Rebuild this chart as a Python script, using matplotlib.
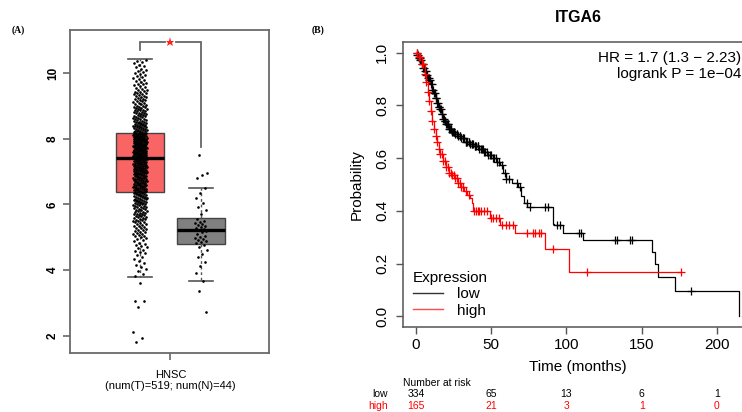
import numpy as np
import matplotlib.pyplot as plt
from matplotlib.transforms import blended_transform_factory

plt.rcParams['font.family'] = ['Liberation Sans', 'DejaVu Sans']

W, H = 742, 412

# ---------------- (A) ITGA6 expression, HNSC tumour vs normal ----------------
# dot cloud of the tumour samples: number of dots per expression band
tumor_band_edges = [3.79, 4.0, 4.5, 5.0, 5.5, 6.0, 6.38, 6.9, 7.41, 7.8, 8.17,
                    8.5, 9.0, 9.5, 10.0, 10.43]
tumor_band_counts = [3, 8, 14, 25, 35, 38, 61, 68, 68, 62, 35, 38, 28, 18, 11]
tumor_outliers = [3.61, 3.06, 3.06, 2.88, 2.12, 1.93, 1.81]
normal_values = [7.5, 6.97, 6.9, 6.8, 6.5, 6.35, 6.2, 6.05, 5.92, 5.83, 5.7,
                 5.55, 5.5, 5.45, 5.42, 5.4, 5.38, 5.35, 5.3, 5.28, 5.25, 5.23,
                 5.2, 5.15, 5.1, 5.05, 5.0, 4.98, 4.95, 4.92, 4.9, 4.86, 4.82,
                 4.75, 4.7, 4.62, 4.5, 4.4, 4.25, 4.12, 3.9, 3.67, 3.36, 2.72]
tumor_box = dict(whislo=3.79, q1=6.38, med=7.41, q3=8.17, whishi=10.43)
normal_box = dict(whislo=3.67, q1=4.80, med=5.22, q3=5.59, whishi=6.50)
group_label = 'HNSC\n(num(T)=519; num(N)=44)'

# ---------------- (B) Kaplan-Meier, ITGA6 low vs high ----------------
low_t = [0, 1, 2, 3, 4, 5, 6, 7, 8, 9, 10, 11, 12, 13, 14, 15, 16, 17, 18, 19,
         20, 22, 24, 26, 28, 30, 33, 36, 39, 42, 45, 48, 51, 54, 56, 58, 60, 64,
         68, 70, 72, 74, 91, 92, 97.7, 111, 157, 159, 161, 172, 214.6]
low_s = [1.0, 0.99, 0.98, 0.97, 0.955, 0.94, 0.93, 0.915, 0.905, 0.895, 0.88,
         0.86, 0.845, 0.828, 0.81, 0.795, 0.785, 0.768, 0.75, 0.74, 0.73, 0.712,
         0.7, 0.69, 0.682, 0.675, 0.662, 0.652, 0.645, 0.635, 0.625, 0.612, 0.6,
         0.585, 0.575, 0.545, 0.52, 0.505, 0.49, 0.455, 0.43, 0.413, 0.352,
         0.345, 0.318, 0.288, 0.243, 0.197, 0.148, 0.098, 0.0]
low_end = 214.6
low_censor = [0.5, 1, 1.5, 2, 2.5, 3, 3.5, 4, 4.5, 5, 5.5, 6, 6.5, 7, 7.5, 8,
              8.5, 9, 9.5, 10, 10.5, 11, 11.5, 12, 12.5, 13, 13.5, 14, 14.5, 15,
              15.5, 16, 16.5, 17, 17.5, 18, 18.5, 19, 19.5, 20, 20.5, 21, 21.5,
              22, 22.5, 23, 23.5, 24, 24.5, 25, 25.5, 26, 27, 27.5, 28, 29, 29.5,
              30, 31, 31.5, 32, 33, 33.5, 34, 35, 35.5, 36, 37, 37.5, 38, 39,
              39.5, 40, 41, 41.5, 42, 43, 44, 44.5, 45, 46, 47, 48, 49, 50, 51,
              52, 53, 54, 55, 57, 59, 60, 62, 67, 69, 73.7, 76, 86, 88, 94, 96,
              108.5, 110, 132, 133.5, 142, 143.5, 183]

high_t = [0, 2, 4, 6, 7, 8, 9, 10, 11, 12, 13, 14, 15, 16, 18, 20, 22, 24, 26,
          28, 30, 32, 34, 36, 37, 38, 49, 56, 66, 86, 102]
high_s = [1.0, 0.985, 0.955, 0.92, 0.89, 0.85, 0.815, 0.78, 0.74, 0.71, 0.685,
          0.66, 0.635, 0.615, 0.59, 0.565, 0.545, 0.535, 0.525, 0.505, 0.49,
          0.475, 0.462, 0.45, 0.43, 0.40, 0.372, 0.348, 0.318, 0.254, 0.17]
high_end = 176
high_censor = [1, 2, 3, 4, 5, 6, 7, 8, 9, 10, 11, 12, 13, 14, 15, 16, 17, 18,
               19, 20, 21, 22, 23, 24, 25, 26, 27, 28, 29, 30, 31, 33, 35, 38.5,
               40, 41, 42, 43, 45, 47, 49.6, 51, 53, 55, 57.5, 60, 62, 64.7, 74,
               78, 79, 82, 83, 91, 113.6, 176]

risk_times = [0, 50, 100, 150, 200]
risk_low = [334, 65, 13, 6, 1]
risk_high = [165, 21, 3, 1, 0]
hr_text = 'HR = 1.7 (1.3 \u2212 2.23)\nlogrank P = 1e\u221204'


def fx(px):
    return px / W


def fy(py):
    return 1 - py / H


def spread(n, half, shift):
    # deterministic horizontal jitter for the dot cloud
    return half * (2 * ((np.arange(n) * 0.618034 + shift) % 1) - 1)


fig = plt.figure(figsize=(W / 100, H / 100), dpi=100)

# ======================= panel A =======================
ax1 = fig.add_axes([fx(70), fy(353), fx(269) - fx(70), fy(30) - fy(353)])
pos_t, pos_n = 0.8, 1.2

tumor_vals = []
for lo, hi, n in zip(tumor_band_edges[:-1], tumor_band_edges[1:], tumor_band_counts):
    tumor_vals += list(lo + (np.arange(n) + 0.5) / n * (hi - lo))
tumor_vals = np.array(tumor_vals + tumor_outliers)
normal_vals = np.array(normal_values)

stats = [dict(tumor_box, label=''), dict(normal_box, label='')]
ax1.bxp(stats, positions=[pos_t, pos_n], widths=0.32, patch_artist=True,
        showfliers=False,
        boxprops=dict(edgecolor='#444444', linewidth=1.0),
        medianprops=dict(color='black', linewidth=2.4),
        whiskerprops=dict(color='#555555', linewidth=1.0, linestyle=(0, (2, 2))),
        capprops=dict(color='#555555', linewidth=1.2),
        capwidths=0.16)
ax1.patches[0].set_facecolor('#F96565')
ax1.patches[1].set_facecolor('#808080')

ax1.scatter(pos_t + spread(len(tumor_vals), 0.045, 0.1), tumor_vals,
            s=3.6, color='black', zorder=3, linewidths=0)
ax1.scatter(pos_n + spread(len(normal_vals), 0.04, 0.35), normal_vals,
            s=3.6, color='black', zorder=3, linewidths=0)

# significance bracket
top = tumor_box['whishi'] + 0.51
ax1.plot([pos_t, pos_t, 0.965], [tumor_box['whishi'] + 0.27, top, top],
         color='#666666', lw=1.3, solid_joinstyle='miter')
ax1.plot([1.035, pos_n, pos_n], [top, top, max(normal_values) + 0.25],
         color='#666666', lw=1.3, solid_joinstyle='miter')
ax1.plot([(pos_t + pos_n) / 2], [top], marker='*', color='#FF2020', ms=6.5,
         mew=0)

ax1.set_xlim(0.341, 1.646)
ax1.set_ylim(1.476, 11.31)
ax1.set_yticks([2, 4, 6, 8, 10])
ax1.set_yticklabels(['2', '4', '6', '8', '10'], rotation=90, va='center',
                    fontsize=8.5, fontweight='bold')
ax1.set_xticks([(pos_t + pos_n) / 2])
ax1.set_xticklabels([group_label], fontsize=8, linespacing=1.15)
ax1.tick_params(axis='y', length=5, width=1.2, color='#666666', pad=3)
ax1.tick_params(axis='x', length=5, width=1.2, color='#666666', pad=7)
for sp in ax1.spines.values():
    sp.set_color('#6a6a6a')
    sp.set_linewidth(1.3)

fig.text(fx(12), fy(30), '(A)', family='Liberation Serif', fontweight='bold',
         fontsize=7, va='center', ha='left')
fig.text(fx(312), fy(30), '(B)', family='Liberation Serif', fontweight='bold',
         fontsize=7, va='center', ha='left')

# ======================= panel B =======================
ax2 = fig.add_axes([fx(403), fy(327), fx(752) - fx(403), fy(42) - fy(327)])

for t, s, end, cens, col in [(low_t, low_s, low_end, low_censor, 'black'),
                             (high_t, high_s, high_end, high_censor, '#FF0000')]:
    t = np.array(t)
    s = np.array(s)
    ax2.step(np.r_[t, end], np.r_[s, s[-1]], where='post', color=col, lw=0.9)
    cens = np.array(cens)
    cy = s[np.searchsorted(t, cens, side='right') - 1]
    ax2.plot(cens, cy, linestyle='none', marker='+', color=col, ms=5.5,
             mew=0.9)

ax2.plot([], [], color='#333333', lw=1.0, label='low')
ax2.plot([], [], color='#FF4a4a', lw=1.0, label='high')
leg = ax2.legend(loc='lower left', bbox_to_anchor=(0.028, 0.033),
                 frameon=False, title='Expression', title_fontsize=11,
                 fontsize=11, alignment='left', borderpad=0, borderaxespad=0,
                 handlelength=2.0, handletextpad=0.9, labelspacing=0.15)

ax2.set_xlim(-8.6, 223.3)
ax2.set_ylim(-0.04, 1.04)
ax2.set_xticks(risk_times)
ax2.set_xticklabels([str(v) for v in risk_times], fontsize=11)
yt = [0.0, 0.2, 0.4, 0.6, 0.8, 1.0]
ax2.set_yticks(yt)
ax2.set_yticklabels([f'{v:.1f}' for v in yt], rotation=90, va='center',
                    fontsize=11)
ax2.tick_params(length=5, width=1.0, color='#555555', pad=3)
ax2.tick_params(axis='y', pad=5)
for sp in ax2.spines.values():
    sp.set_color('#555555')
    sp.set_linewidth(1.1)

fig.text(fx(578), fy(17), 'ITGA6', fontsize=11.5, fontweight='bold',
         ha='center', va='center')
fig.text(fx(357), fy(185), 'Probability', fontsize=11, rotation=90,
         ha='center', va='center')
fig.text(fx(578), fy(367), 'Time (months)', fontsize=11, ha='center',
         va='center')
fig.text(fx(741), fy(66), hr_text, fontsize=11, ha='right', va='center',
         linespacing=1.15)

# number at risk table
tr = blended_transform_factory(ax2.transData, fig.transFigure)
fig.text(fx(403), fy(383), 'Number at risk', fontsize=7.5, ha='left',
         va='center')
fig.text(fx(388), fy(394), 'low', fontsize=7.5, ha='right', va='center')
fig.text(fx(388), fy(406), 'high', fontsize=7.5, ha='right', va='center',
         color='#FF0000')
for t, a, b in zip(risk_times, risk_low, risk_high):
    ax2.text(t, fy(394), str(a), transform=tr, fontsize=7.5, ha='center',
             va='center', clip_on=False)
    ax2.text(t, fy(406), str(b), transform=tr, fontsize=7.5, ha='center',
             va='center', color='#FF0000', clip_on=False)

fig.savefig('out.png', dpi=100)
